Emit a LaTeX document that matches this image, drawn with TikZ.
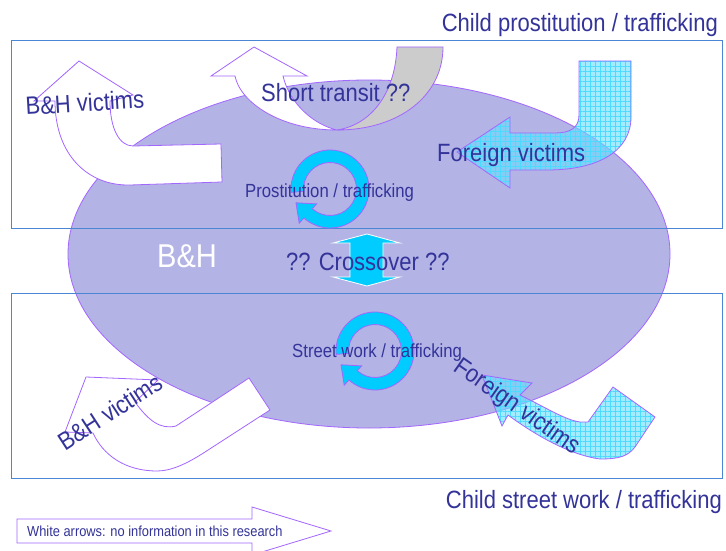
\documentclass[tikz,border=0pt]{standalone}
\usepackage{xcolor}
\usepackage{fontspec}
\setmainfont{Liberation Sans}[FakeStretch=0.88]
\usepackage{tikz}
\usetikzlibrary{patterns.meta}

\definecolor{ellfill}{HTML}{B3B3E6}
\definecolor{lila}{HTML}{A366FF}
\definecolor{rahmen}{HTML}{4A86D4}
\definecolor{schrift}{HTML}{333399}
\definecolor{zyan}{HTML}{00CCFF}
\definecolor{hellzyan}{HTML}{66E0FF}
\definecolor{grau}{HTML}{CCCCCC}

\begin{document}
\begin{tikzpicture}
    [x=1pt, y=-1pt,
      % Stil für Beschriftungen
      lbl/.style={text=schrift, font=\fontsize{25}{30}\selectfont, inner sep=0pt},
      small/.style={text=schrift, font=\fontsize{19}{23}\selectfont, inner sep=0pt},
      % Stil für Pfeile
      whitearrow/.style={fill=white, draw=lila, line width=0.8pt},
      greyarrow/.style={fill=grau, draw=lila, line width=0.8pt},
      foreign/.style={draw=lila, line width=0.8pt, preaction={fill=hellzyan, fill opacity=0.6},
        pattern={Hatch[angle=0, distance=5pt, line width=0.5pt]}, pattern color=zyan!70},
      ring/.style={fill=zyan, draw=lila, line width=0.8pt},
      % Stil für Rahmen
      frame/.style={draw=rahmen, line width=1pt}]
    \fill[white] (0,0) rectangle (726,551);
    \useasboundingbox (0,0) rectangle (726,551);

    % Ellipse
    \draw[fill=ellfill, draw=lila, line width=0.8pt] (369,254) ellipse [x radius=301, y radius=174];

    % Rahmen
    \draw[frame] (11,41) rectangle (722,228);
    \draw[frame] (11,293) rectangle (722,478);

    % weisse Pfeile
    \draw[whitearrow] (221,144) -- (133,146) .. controls (119,146) and (110,128) .. (110,101)
      -- (133,95) -- (79,61) -- (34,101) -- (55,101)
      .. controls (55,155) and (88,186) .. (130,185) -- (222,182) -- cycle;
    \draw[greyarrow] (397,47) -- (443,47) .. controls (443,95) and (400,130) .. (337,130)
      .. controls (370,125) and (395,95) .. cycle;
    \draw[whitearrow] (337,130) .. controls (280,130) and (240,102) .. (235,76)
      -- (211,76) -- (254,47) -- (307,76) -- (283,76)
      .. controls (290,105) and (315,125) .. cycle;
    \draw[whitearrow] (86,377) -- (158,380) -- (135,402) .. controls (148,420) and (160,430) .. (176,426)
      -- (249,378) -- (270,410) -- (205,452) .. controls (185,465) and (170,471) .. (157,471)
      .. controls (125,471) and (103,455) .. (93,433) -- (65,432) -- cycle;

    % fremde Opfer
    \draw[foreign] (631,61) -- (631,117) .. controls (631,150) and (600,170) .. (547,170)
      -- (510,170) -- (510,188) -- (457,152) -- (510,117) -- (510,133) -- (555,133)
      .. controls (570,133) and (579,128) .. (579,115) -- (579,61) -- cycle;
    \draw[foreign] (482,375) -- (532,383) -- (520,395) .. controls (545,407) and (565,420) .. (580,422)
      -- (588,422) -- (613,387) -- (655,417) -- (635,447) .. controls (628,456) and (620,459) .. (600,459)
      .. controls (570,455) and (535,435) .. (508,415) -- (502,426) -- cycle;

    % Kreispfeile
    \foreach \cx/\cy in {330/189, 375/351} {
      \begin{scope}[shift={(\cx,\cy)}]
        \draw[ring] (175:39) arc[start angle=175, end angle=492, radius=39] -- (492:46) -- (-34,13.8)
          -- (492:20) -- (492:26.5) arc[start angle=492, end angle=175, radius=26.5] -- cycle;
      \end{scope}
    }

    % Doppelpfeil
    \draw[fill=zyan, draw=white, line width=0.8pt] (367,234) -- (400,243) -- (383,243) -- (383,277)
      -- (400,277) -- (367,286) -- (333,277) -- (350,277) -- (350,243) -- (333,243) -- cycle;

    % Legende
    \draw[whitearrow] (17,519) -- (252,519) -- (252,507) -- (331,531) -- (252,555) -- (252,543) -- (17,543) -- cycle;

    % Knoten
    \node[lbl, anchor=base east] (titletop) at (718,32) {Child prostitution / trafficking};
    \node[lbl, anchor=base east] (titlebot) at (722,508) {Child street work / trafficking};
    \node[lbl, anchor=base west, rotate=3.4] (bhtop) at (26,115) {B\&H victims};
    \node[lbl, anchor=base west] (transit) at (261,101) {Short transit ??};
    \node[lbl, anchor=base west] (fortop) at (437,161) {Foreign victims};
    \node[small, anchor=base west] (prost) at (245,197) {Prostitution / trafficking};
    \node[text=white, font=\fontsize{33}{40}\selectfont, inner sep=0pt, anchor=base west] (bh) at (157,267) {B\&H};
    \node[lbl, anchor=base west] (cross) at (286,270) {?? Crossover ??};
    \node[small, anchor=base west] (street) at (292,357) {Street work / trafficking};
    \node[lbl, anchor=base west, rotate=33] (bhbot) at (65,452) {B\&H victims};
    \node[lbl, anchor=base west, rotate=-35] (forbot) at (452,370) {Foreign victims};
    \node[text=schrift, font=\fontsize{14.6}{17}\selectfont, inner sep=0pt, anchor=base west] (legend) at (27,536) {White arrows: no information in this research};

  \end{tikzpicture}
\end{document}
